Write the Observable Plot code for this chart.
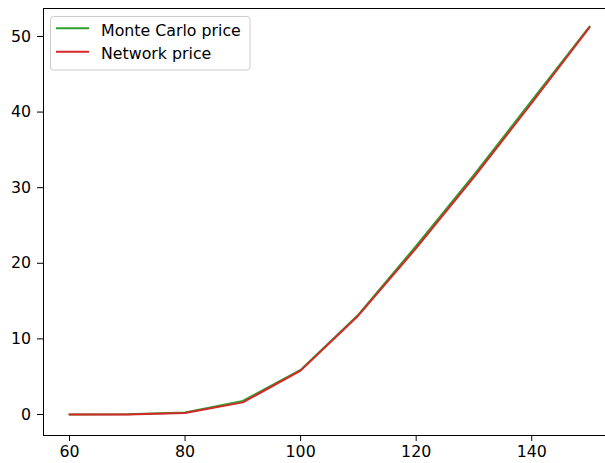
<!DOCTYPE html>
<html>
<head>
<meta charset="utf-8">
<script src="https://cdn.jsdelivr.net/npm/d3@7"></script>
<script src="https://cdn.jsdelivr.net/npm/@observablehq/plot@0.6"></script>
<style>
  html, body { margin: 0; padding: 0; background: #fff; }
  svg, svg text { font-family: 'DejaVu Sans' !important; }
</style>
</head>
<body>
<div id="chart"></div>
<script>
const strikes = [60, 70, 80, 90, 100, 110, 120, 130, 140, 150];
const monteCarlo = [0.0, 0.02, 0.25, 1.8, 5.9, 13.2, 22.3, 31.7, 41.5, 51.3];
const network = [0.0, 0.0, 0.2, 1.6, 5.8, 13.1, 22.0, 31.4, 41.2, 51.2];
const xTicks = [60, 80, 100, 120, 140];
const yTicks = [0, 10, 20, 30, 40, 50];
const seriesNames = ["Monte Carlo price", "Network price"];
const seriesColors = ["#2ca02c", "#d62728"];

const mcData = strikes.map((x, i) => ({x, y: monteCarlo[i]}));
const netData = strikes.map((x, i) => ({x, y: network[i]}));

const xDomain = [55.5, 154.5];
const yDomain = [-2.78, 53.7];
const FS = 15.8;

const plot = Plot.plot({
  width: 605,
  height: 463,
  marginLeft: 43,
  marginRight: 0,
  marginTop: 8,
  marginBottom: 28,
  style: {fontFamily: "'DejaVu Sans'", fontSize: FS + "px", color: "#000", background: "#fff"},
  x: {domain: xDomain, range: [43, 615]},
  y: {domain: yDomain, range: [435, 8]},
  marks: [
    Plot.line(mcData, {x: "x", y: "y", stroke: seriesColors[0], strokeWidth: 2}),
    Plot.line(netData, {x: "x", y: "y", stroke: seriesColors[1], strokeWidth: 2}),
    Plot.ruleX([xDomain[0]], {stroke: "#000", strokeWidth: 1}),
    Plot.ruleY([yDomain[0], yDomain[1]], {stroke: "#000", strokeWidth: 1}),
    Plot.axisX(xTicks, {tickSize: 6, tickPadding: 4, fontSize: FS, label: null, stroke: "#000", color: "#000"}),
    Plot.axisY(yTicks, {tickSize: 6, tickPadding: 6.5, fontSize: FS, label: null, stroke: "#000", color: "#000"})
  ]
});

document.getElementById("chart").appendChild(plot);

// Legend (matplotlib-style, upper left)
const svg = d3.select(plot);
const lg = svg.append("g").attr("transform", "translate(50,16)").attr("text-anchor", "start");
lg.append("rect")
  .attr("x", 0.5).attr("y", 0.5).attr("width", 199.5).attr("height", 53.5)
  .attr("rx", 3).attr("fill", "#fff").attr("fill-opacity", 0.8)
  .attr("stroke", "#ccc");
const lineYs = [12.3, 35.7];
const baseYs = [19.7, 42.5];
seriesNames.forEach((name, i) => {
  lg.append("line")
    .attr("x1", 6).attr("x2", 39).attr("y1", lineYs[i]).attr("y2", lineYs[i])
    .attr("stroke", seriesColors[i]).attr("stroke-width", 2);
  lg.append("text")
    .attr("x", 51).attr("y", baseYs[i])
    .attr("text-anchor", "start")
    .style("font-size", FS + "px").attr("fill", "#000")
    .text(name);
});
</script>
</body>
</html>
